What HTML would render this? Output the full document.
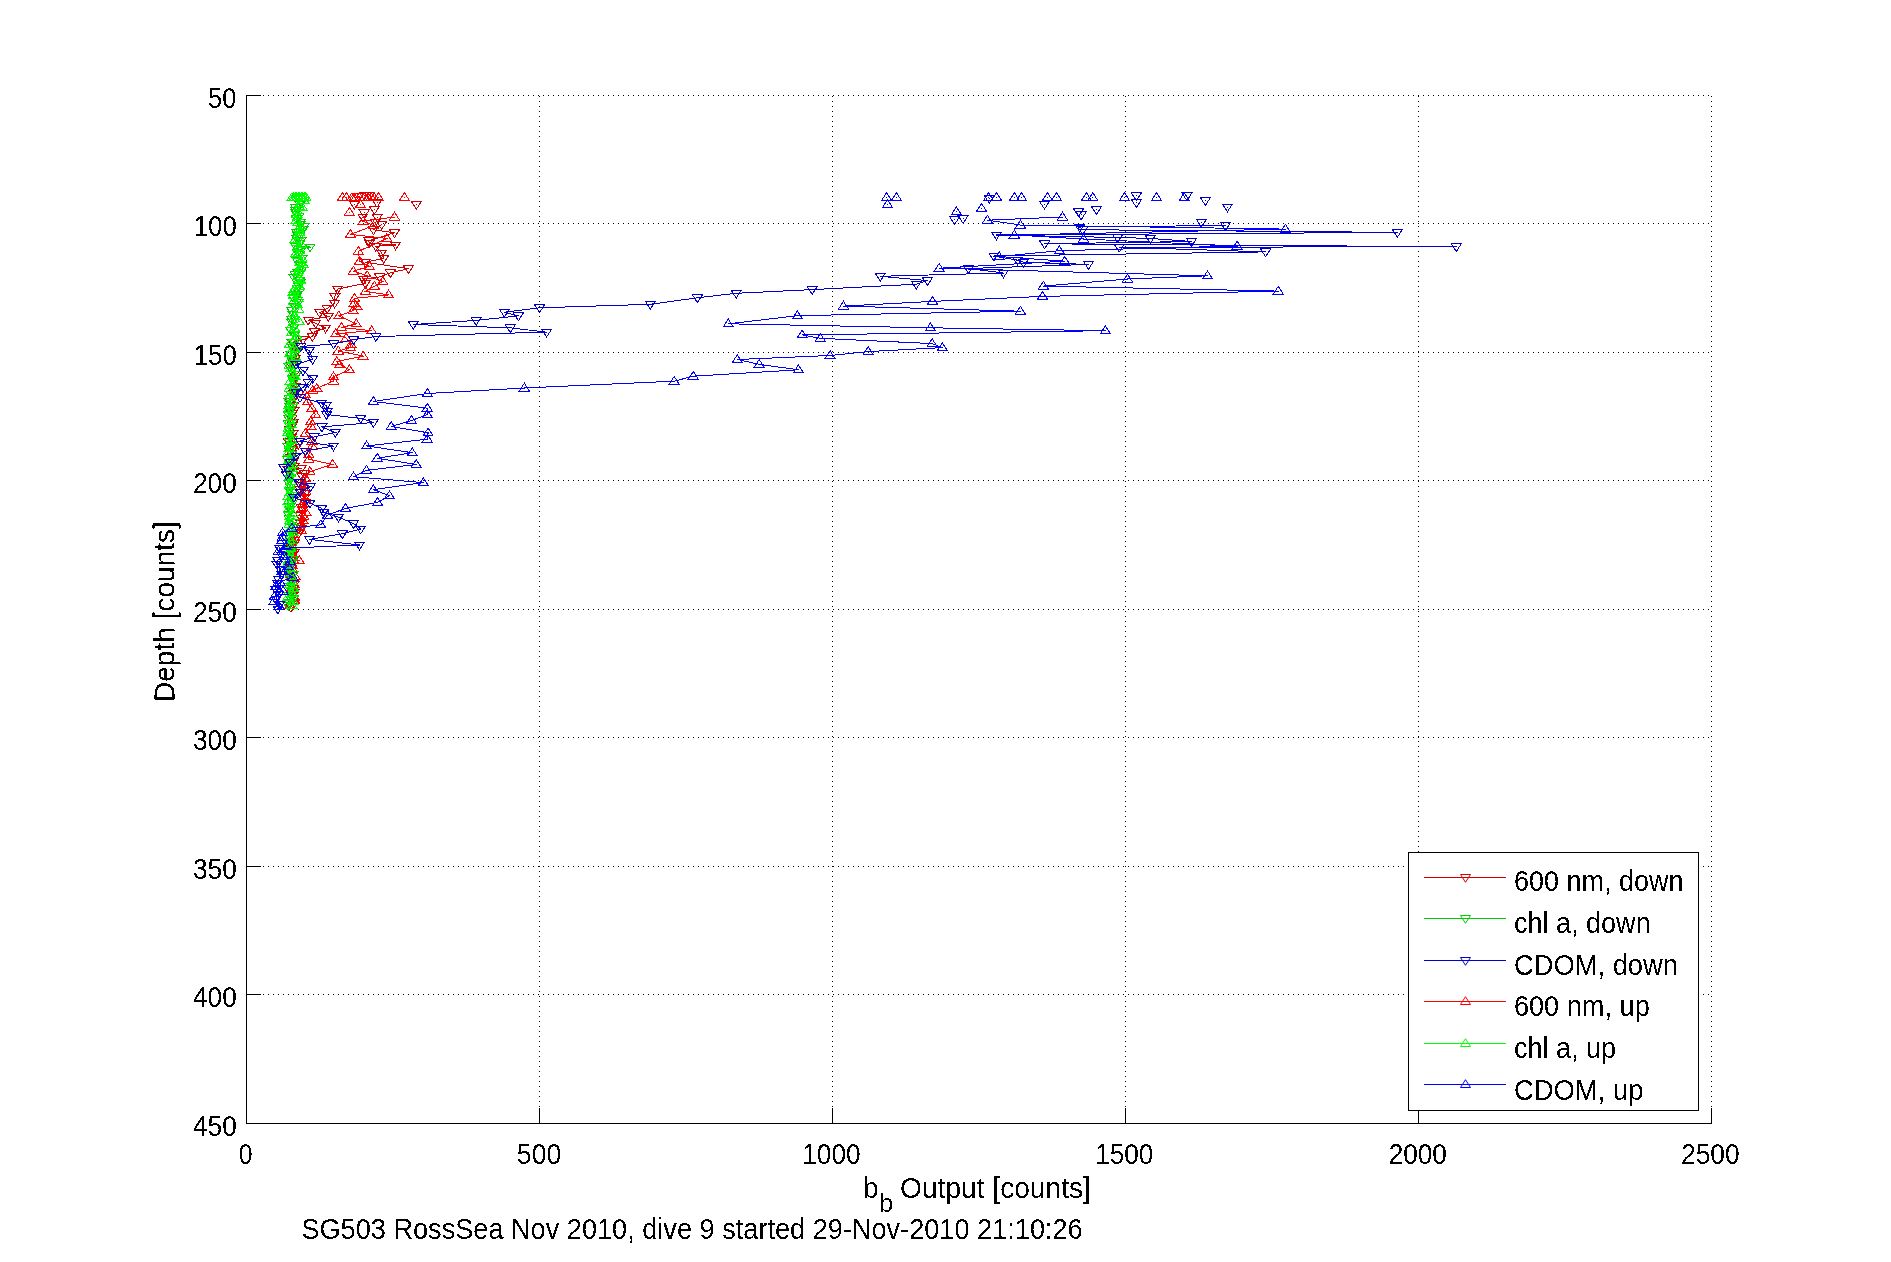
<!DOCTYPE html><html><head><meta charset="utf-8"><title>SG503 RossSea bb output</title><style>html,body{margin:0;padding:0;background:#fff;}svg{display:block;}text{font-family:"Liberation Sans", Arial, Helvetica, sans-serif;font-size:30px;fill:#000;}</style></head><body>
<svg width="1891" height="1262" viewBox="0 0 1891 1262">
<rect x="0" y="0" width="1891" height="1262" fill="#fff"/>
<defs><filter id="al" x="-5%" y="-20%" width="110%" height="140%"><feComponentTransfer><feFuncA type="discrete" tableValues="0 1"/></feComponentTransfer></filter></defs>
<path d="M246.5 1122V95M539.5 1122V95M832.5 1122V95M1125.5 1122V95M1418.5 1122V95M1711.5 1122V95M248 95.5H1712M248 223.5H1712M248 352.5H1712M248 480.5H1712M248 609.5H1712M248 737.5H1712M248 866.5H1712M248 994.5H1712M248 1123.5H1712" stroke="#000" stroke-width="1" stroke-dasharray="1 4" fill="none" shape-rendering="crispEdges"/>
<path d="M246.5 95V1123.5H1712M246.5 1123V1108M539.5 1123V1108M832.5 1123V1108M1125.5 1123V1108M1418.5 1123V1108M1711.5 1123V1108M246 95.5H261M246 223.5H261M246 352.5H261M246 480.5H261M246 609.5H261M246 737.5H261M246 866.5H261M246 994.5H261M246 1123.5H261" stroke="#000" stroke-width="1" fill="none" shape-rendering="crispEdges"/>
<text x="208.06" y="108" textLength="28.16" lengthAdjust="spacingAndGlyphs" filter="url(#al)">50</text>
<text x="193.78" y="236" textLength="43.03" lengthAdjust="spacingAndGlyphs" filter="url(#al)">100</text>
<text x="193.78" y="365" textLength="43.03" lengthAdjust="spacingAndGlyphs" filter="url(#al)">150</text>
<text x="193.02" y="493" textLength="43.80" lengthAdjust="spacingAndGlyphs" filter="url(#al)">200</text>
<text x="193.02" y="622" textLength="43.80" lengthAdjust="spacingAndGlyphs" filter="url(#al)">250</text>
<text x="193.02" y="750" textLength="43.80" lengthAdjust="spacingAndGlyphs" filter="url(#al)">300</text>
<text x="193.02" y="879" textLength="43.80" lengthAdjust="spacingAndGlyphs" filter="url(#al)">350</text>
<text x="193.02" y="1007" textLength="43.80" lengthAdjust="spacingAndGlyphs" filter="url(#al)">400</text>
<text x="193.02" y="1136" textLength="43.80" lengthAdjust="spacingAndGlyphs" filter="url(#al)">450</text>
<text x="238.77" y="1164" textLength="13.80" lengthAdjust="spacingAndGlyphs" filter="url(#al)">0</text>
<text x="516.81" y="1164" textLength="44.53" lengthAdjust="spacingAndGlyphs" filter="url(#al)">500</text>
<text x="802.25" y="1164" textLength="58.41" lengthAdjust="spacingAndGlyphs" filter="url(#al)">1000</text>
<text x="1095.15" y="1164" textLength="58.30" lengthAdjust="spacingAndGlyphs" filter="url(#al)">1500</text>
<text x="1388.63" y="1164" textLength="58.33" lengthAdjust="spacingAndGlyphs" filter="url(#al)">2000</text>
<text x="1681.02" y="1164" textLength="58.64" lengthAdjust="spacingAndGlyphs" filter="url(#al)">2500</text>
<text x="863.17" y="1198" textLength="15.26" lengthAdjust="spacingAndGlyphs" filter="url(#al)">b</text>
<text x="879.04" y="1212" textLength="14.19" lengthAdjust="spacingAndGlyphs" filter="url(#al)" style="font-size:26px">b</text>
<text x="900.06" y="1198" textLength="190.81" lengthAdjust="spacingAndGlyphs" filter="url(#al)">Output [counts]</text>
<text transform="translate(174.5 702.07) rotate(-90)" x="0" y="0" textLength="180.85" lengthAdjust="spacingAndGlyphs" filter="url(#al)">Depth [counts]</text>
<text x="301.40" y="1239" textLength="781.31" lengthAdjust="spacingAndGlyphs" filter="url(#al)">SG503 RossSea Nov 2010, dive 9 started 29-Nov-2010 21:10:26</text>
<path d="M381.7 224.6L373.5 229.8L394.5 232.7L368.9 240.8L369.2 243.1L395.6 245.0L375.8 246.3L381.7 253.0L383.7 258.3L365.4 262.3L408.4 268.7L390.4 272.8L379.6 276.9L363.6 279.2L365.4 283.3L337.5 289.1L334.8 296.7L334.6 303.2L327.2 308.5L319.8 312.7L328.3 316.4L308.2 320.1L315.6 323.3L325.6 328.0L314.5 331.7L312.4 336.5L302.9 339.7L292.8 342.0L294.8 346.5L296.4 350.5L295.0 354.6L295.4 358.3L292.5 361.2L291.8 365.8L291.5 370.5L294.0 374.2L294.3 378.3L293.3 381.2L295.0 386.4L293.1 390.1L293.9 393.3L294.2 397.6L290.1 401.6L293.8 405.5L293.8 410.8L292.1 413.8L291.9 418.3L293.5 422.2L292.6 425.3L289.5 429.6L292.9 433.7L291.7 437.2L288.5 441.6L298.3 444.4L292.0 446.3L292.1 449.7L291.2 453.9L290.9 457.4L293.5 461.5L294.1 466.7L301.1 468.8L288.3 469.9L304.4 473.7L302.2 476.8L300.8 482.1L300.8 485.7L300.4 489.8L305.2 493.4L304.4 498.2L304.8 502.7L300.9 507.2L302.4 510.0L299.5 515.0L302.2 518.9L300.3 523.2L301.4 528.1L299.5 532.2L294.0 535.4L294.4 540.3L294.3 543.7L291.6 547.8L294.7 552.1L291.5 555.9L291.1 559.3L290.2 564.5L291.1 568.7L290.9 571.6L292.2 575.5L291.5 580.7L294.0 584.5L292.7 588.7L294.3 592.1L293.2 595.3L293.2 599.9L293.3 604.2L290.9 607.3" stroke="#cc0000" stroke-width="1" fill="none" shape-rendering="crispEdges"/>
<path d="M359.2 192.3H369.2L364.2 200.1ZM365.0 192.3H375.0L370.0 200.1ZM354.0 193.0H364.0L359.0 200.8ZM372.0 199.5H382.0L377.0 207.3ZM349.3 201.2H359.3L354.3 209.0ZM411.4 201.5H421.4L416.4 209.3ZM369.4 206.4H379.4L374.4 214.2ZM359.2 209.9H369.2L364.2 217.7ZM357.8 214.0H367.8L362.8 221.8ZM372.3 214.3H382.3L377.3 222.1ZM370.3 219.2H380.3L375.3 227.0ZM376.7 221.6H386.7L381.7 229.4ZM368.5 226.8H378.5L373.5 234.6ZM389.5 229.7H399.5L394.5 237.5ZM363.9 237.8H373.9L368.9 245.6ZM364.2 240.1H374.2L369.2 247.9ZM390.6 242.0H400.6L395.6 249.8ZM370.8 243.3H380.8L375.8 251.1ZM376.7 250.0H386.7L381.7 257.8ZM378.7 255.3H388.7L383.7 263.1ZM360.4 259.3H370.4L365.4 267.1ZM403.4 265.7H413.4L408.4 273.5ZM385.4 269.8H395.4L390.4 277.6ZM374.6 273.9H384.6L379.6 281.7ZM358.6 276.2H368.6L363.6 284.0ZM360.4 280.3H370.4L365.4 288.1ZM332.5 286.1H342.5L337.5 293.9ZM329.8 293.7H339.8L334.8 301.5ZM329.6 300.2H339.6L334.6 308.0ZM322.2 305.5H332.2L327.2 313.3ZM314.8 309.7H324.8L319.8 317.5ZM323.3 313.4H333.3L328.3 321.2ZM303.2 317.1H313.2L308.2 324.9ZM310.6 320.3H320.6L315.6 328.1ZM320.6 325.0H330.6L325.6 332.8ZM309.5 328.7H319.5L314.5 336.5ZM307.4 333.5H317.4L312.4 341.3ZM297.9 336.7H307.9L302.9 344.5ZM287.8 339.0H297.8L292.8 346.8ZM289.8 343.5H299.8L294.8 351.3ZM291.4 347.5H301.4L296.4 355.3ZM290.0 351.6H300.0L295.0 359.4ZM290.4 355.3H300.4L295.4 363.1ZM287.5 358.2H297.5L292.5 366.0ZM286.8 362.8H296.8L291.8 370.6ZM286.5 367.5H296.5L291.5 375.3ZM289.0 371.2H299.0L294.0 379.0ZM289.3 375.3H299.3L294.3 383.1ZM288.3 378.2H298.3L293.3 386.0ZM290.0 383.4H300.0L295.0 391.2ZM288.1 387.1H298.1L293.1 394.9ZM288.9 390.3H298.9L293.9 398.1ZM289.2 394.6H299.2L294.2 402.4ZM285.1 398.6H295.1L290.1 406.4ZM288.8 402.5H298.8L293.8 410.3ZM288.8 407.8H298.8L293.8 415.6ZM287.1 410.8H297.1L292.1 418.6ZM286.9 415.3H296.9L291.9 423.1ZM288.5 419.2H298.5L293.5 427.0ZM287.6 422.3H297.6L292.6 430.1ZM284.5 426.6H294.5L289.5 434.4ZM287.9 430.7H297.9L292.9 438.5ZM286.7 434.2H296.7L291.7 442.0ZM283.5 438.6H293.5L288.5 446.4ZM293.3 441.4H303.3L298.3 449.2ZM287.0 443.3H297.0L292.0 451.1ZM287.1 446.7H297.1L292.1 454.5ZM286.2 450.9H296.2L291.2 458.7ZM285.9 454.4H295.9L290.9 462.2ZM288.5 458.5H298.5L293.5 466.3ZM289.1 463.7H299.1L294.1 471.5ZM296.1 465.8H306.1L301.1 473.6ZM283.3 466.9H293.3L288.3 474.7ZM299.4 470.7H309.4L304.4 478.5ZM297.2 473.8H307.2L302.2 481.6ZM295.8 479.1H305.8L300.8 486.9ZM295.8 482.7H305.8L300.8 490.5ZM295.4 486.8H305.4L300.4 494.6ZM300.2 490.4H310.2L305.2 498.2ZM299.4 495.2H309.4L304.4 503.0ZM299.8 499.7H309.8L304.8 507.5ZM295.9 504.2H305.9L300.9 512.0ZM297.4 507.0H307.4L302.4 514.8ZM294.5 512.0H304.5L299.5 519.8ZM297.2 515.9H307.2L302.2 523.7ZM295.3 520.2H305.3L300.3 528.0ZM296.4 525.1H306.4L301.4 532.9ZM294.5 529.2H304.5L299.5 537.0ZM289.0 532.4H299.0L294.0 540.2ZM289.4 537.3H299.4L294.4 545.1ZM289.3 540.7H299.3L294.3 548.5ZM286.6 544.8H296.6L291.6 552.6ZM289.7 549.1H299.7L294.7 556.9ZM286.5 552.9H296.5L291.5 560.7ZM286.1 556.3H296.1L291.1 564.1ZM285.2 561.5H295.2L290.2 569.3ZM286.1 565.7H296.1L291.1 573.5ZM285.9 568.6H295.9L290.9 576.4ZM287.2 572.5H297.2L292.2 580.3ZM286.5 577.7H296.5L291.5 585.5ZM289.0 581.5H299.0L294.0 589.3ZM287.7 585.7H297.7L292.7 593.5ZM289.3 589.1H299.3L294.3 596.9ZM288.2 592.3H298.2L293.2 600.1ZM288.2 596.9H298.2L293.2 604.7ZM288.3 601.2H298.3L293.3 609.0ZM285.9 604.3H295.9L290.9 612.1Z" stroke="#cc0000" stroke-width="1" fill="none" shape-rendering="crispEdges"/>
<path d="M364 195h1v1h-1zM370 195h1v1h-1zM359 196h1v1h-1zM377 202h1v1h-1zM354 204h1v1h-1zM416 204h1v1h-1zM374 209h1v1h-1zM364 212h1v1h-1zM362 217h1v1h-1zM377 217h1v1h-1zM375 222h1v1h-1zM381 224h1v1h-1zM373 229h1v1h-1zM394 232h1v1h-1zM368 240h1v1h-1zM369 243h1v1h-1zM395 245h1v1h-1zM375 246h1v1h-1zM381 253h1v1h-1zM383 258h1v1h-1zM365 262h1v1h-1zM408 268h1v1h-1zM390 272h1v1h-1zM379 276h1v1h-1zM363 279h1v1h-1zM365 283h1v1h-1zM337 289h1v1h-1zM334 296h1v1h-1zM334 303h1v1h-1zM327 308h1v1h-1zM319 312h1v1h-1zM328 316h1v1h-1zM308 320h1v1h-1zM315 323h1v1h-1zM325 328h1v1h-1zM314 331h1v1h-1zM312 336h1v1h-1zM302 339h1v1h-1zM292 342h1v1h-1zM294 346h1v1h-1zM296 350h1v1h-1zM295 354h1v1h-1zM295 358h1v1h-1zM292 361h1v1h-1zM291 365h1v1h-1zM291 370h1v1h-1zM294 374h1v1h-1zM294 378h1v1h-1zM293 381h1v1h-1zM295 386h1v1h-1zM293 390h1v1h-1zM293 393h1v1h-1zM294 397h1v1h-1zM290 401h1v1h-1zM293 405h1v1h-1zM293 410h1v1h-1zM292 413h1v1h-1zM291 418h1v1h-1zM293 422h1v1h-1zM292 425h1v1h-1zM289 429h1v1h-1zM292 433h1v1h-1zM291 437h1v1h-1zM288 441h1v1h-1zM298 444h1v1h-1zM292 446h1v1h-1zM292 449h1v1h-1zM291 453h1v1h-1zM290 457h1v1h-1zM293 461h1v1h-1zM294 466h1v1h-1zM301 468h1v1h-1zM288 469h1v1h-1zM304 473h1v1h-1zM302 476h1v1h-1zM300 482h1v1h-1zM300 485h1v1h-1zM300 489h1v1h-1zM305 493h1v1h-1zM304 498h1v1h-1zM304 502h1v1h-1zM300 507h1v1h-1zM302 510h1v1h-1zM299 515h1v1h-1zM302 518h1v1h-1zM300 523h1v1h-1zM301 528h1v1h-1zM299 532h1v1h-1zM294 535h1v1h-1zM294 540h1v1h-1zM294 543h1v1h-1zM291 547h1v1h-1zM294 552h1v1h-1zM291 555h1v1h-1zM291 559h1v1h-1zM290 564h1v1h-1zM291 568h1v1h-1zM290 571h1v1h-1zM292 575h1v1h-1zM291 580h1v1h-1zM294 584h1v1h-1zM292 588h1v1h-1zM294 592h1v1h-1zM293 595h1v1h-1zM293 599h1v1h-1zM293 604h1v1h-1zM290 607h1v1h-1z" fill="#cc0000"/>
<path d="M394.5 217.0L363.3 221.1L373.5 225.7L350.5 234.4L386.9 238.5L358.4 251.3L359.6 261.2L369.4 266.4L353.4 271.1L367.1 275.7L382.8 281.5L374.4 286.2L365.4 291.4L388.6 294.9L354.6 298.4L354.2 303.2L357.3 306.9L353.1 310.6L338.8 315.9L356.3 323.8L341.5 327.5L371.6 330.7L335.7 333.8L346.2 338.1L351.0 344.4L350.5 347.6L338.3 351.0L363.2 356.1L336.8 361.6L339.7 364.5L349.4 369.8L333.5 376.8L333.5 381.1L316.8 388.3L312.7 390.4L305.0 394.1L307.5 401.9L311.9 408.2L315.5 414.6L310.7 421.7L311.1 426.5L305.5 433.3L312.2 441.1L312.2 446.1L308.8 454.4L308.8 459.4L332.6 464.3L309.9 471.6L305.5 478.3L304.4 484.9L305.5 491.0L302.2 496.6L305.6 499.4L302.8 503.9L301.8 508.8L305.9 512.2L303.9 516.5L303.3 520.8L301.0 524.7L301.2 530.0L292.8 532.6L294.8 537.8L292.5 540.4L291.2 544.3L291.9 548.3L291.4 552.6L293.0 557.6L299.2 560.5L293.9 560.9L292.2 565.0L292.0 568.7L290.4 572.6L295.0 576.4L292.6 581.2L294.4 584.5L291.4 588.6L292.1 592.9L294.8 597.6L294.4 600.2L290.2 605.3" stroke="#ff0000" stroke-width="1" fill="none" shape-rendering="crispEdges"/>
<path d="M337.4 200.5H347.4L342.4 192.7ZM341.5 200.5H351.5L346.5 192.7ZM347.0 200.5H357.0L352.0 192.7ZM349.0 200.5H359.0L354.0 192.7ZM351.0 200.5H361.0L356.0 192.7ZM354.6 200.5H364.6L359.6 192.7ZM359.2 200.5H369.2L364.2 192.7ZM362.7 200.5H372.7L367.7 192.7ZM366.2 200.5H376.2L371.2 192.7ZM369.1 200.5H379.1L374.1 192.7ZM373.5 200.5H383.5L378.5 192.7ZM399.4 200.5H409.4L404.4 192.7ZM355.7 207.8H365.7L360.7 200.0ZM344.4 215.3H354.4L349.4 207.5ZM389.5 220.0H399.5L394.5 212.2ZM358.3 224.1H368.3L363.3 216.3ZM368.5 228.7H378.5L373.5 220.9ZM345.5 237.4H355.5L350.5 229.6ZM381.9 241.5H391.9L386.9 233.7ZM353.4 254.3H363.4L358.4 246.5ZM354.6 264.2H364.6L359.6 256.4ZM364.4 269.4H374.4L369.4 261.6ZM348.4 274.1H358.4L353.4 266.3ZM362.1 278.7H372.1L367.1 270.9ZM377.8 284.5H387.8L382.8 276.7ZM369.4 289.2H379.4L374.4 281.4ZM360.4 294.4H370.4L365.4 286.6ZM383.6 297.9H393.6L388.6 290.1ZM349.6 301.4H359.6L354.6 293.6ZM349.2 306.2H359.2L354.2 298.4ZM352.3 309.9H362.3L357.3 302.1ZM348.1 313.6H358.1L353.1 305.8ZM333.8 318.9H343.8L338.8 311.1ZM351.3 326.8H361.3L356.3 319.0ZM336.5 330.5H346.5L341.5 322.7ZM366.6 333.7H376.6L371.6 325.9ZM330.7 336.8H340.7L335.7 329.0ZM341.2 341.1H351.2L346.2 333.3ZM346.0 347.4H356.0L351.0 339.6ZM345.5 350.6H355.5L350.5 342.8ZM333.3 354.0H343.3L338.3 346.2ZM358.2 359.1H368.2L363.2 351.3ZM331.8 364.6H341.8L336.8 356.8ZM334.7 367.5H344.7L339.7 359.7ZM344.4 372.8H354.4L349.4 365.0ZM328.5 379.8H338.5L333.5 372.0ZM328.5 384.1H338.5L333.5 376.3ZM311.8 391.3H321.8L316.8 383.5ZM307.7 393.4H317.7L312.7 385.6ZM300.0 397.1H310.0L305.0 389.3ZM302.5 404.9H312.5L307.5 397.1ZM306.9 411.2H316.9L311.9 403.4ZM310.5 417.6H320.5L315.5 409.8ZM305.7 424.7H315.7L310.7 416.9ZM306.1 429.5H316.1L311.1 421.7ZM300.5 436.3H310.5L305.5 428.5ZM307.2 444.1H317.2L312.2 436.3ZM307.2 449.1H317.2L312.2 441.3ZM303.8 457.4H313.8L308.8 449.6ZM303.8 462.4H313.8L308.8 454.6ZM327.6 467.3H337.6L332.6 459.5ZM304.9 474.6H314.9L309.9 466.8ZM300.5 481.3H310.5L305.5 473.5ZM299.4 487.9H309.4L304.4 480.1ZM300.5 494.0H310.5L305.5 486.2ZM297.2 499.6H307.2L302.2 491.8ZM300.6 502.4H310.6L305.6 494.6ZM297.8 506.9H307.8L302.8 499.1ZM296.8 511.8H306.8L301.8 504.0ZM300.9 515.2H310.9L305.9 507.4ZM298.9 519.5H308.9L303.9 511.7ZM298.3 523.8H308.3L303.3 516.0ZM296.0 527.7H306.0L301.0 519.9ZM296.2 533.0H306.2L301.2 525.2ZM287.8 535.6H297.8L292.8 527.8ZM289.8 540.8H299.8L294.8 533.0ZM287.5 543.4H297.5L292.5 535.6ZM286.2 547.3H296.2L291.2 539.5ZM286.9 551.3H296.9L291.9 543.5ZM286.4 555.6H296.4L291.4 547.8ZM288.0 560.6H298.0L293.0 552.8ZM294.2 563.5H304.2L299.2 555.7ZM288.9 563.9H298.9L293.9 556.1ZM287.2 568.0H297.2L292.2 560.2ZM287.0 571.7H297.0L292.0 563.9ZM285.4 575.6H295.4L290.4 567.8ZM290.0 579.4H300.0L295.0 571.6ZM287.6 584.2H297.6L292.6 576.4ZM289.4 587.5H299.4L294.4 579.7ZM286.4 591.6H296.4L291.4 583.8ZM287.1 595.9H297.1L292.1 588.1ZM289.8 600.6H299.8L294.8 592.8ZM289.4 603.2H299.4L294.4 595.4ZM285.2 608.3H295.2L290.2 600.5Z" stroke="#ff0000" stroke-width="1" fill="none" shape-rendering="crispEdges"/>
<path d="M342 197h1v1h-1zM346 197h1v1h-1zM352 197h1v1h-1zM354 197h1v1h-1zM356 197h1v1h-1zM359 197h1v1h-1zM364 197h1v1h-1zM367 197h1v1h-1zM371 197h1v1h-1zM374 197h1v1h-1zM378 197h1v1h-1zM404 197h1v1h-1zM360 204h1v1h-1zM349 212h1v1h-1zM394 217h1v1h-1zM363 221h1v1h-1zM373 225h1v1h-1zM350 234h1v1h-1zM386 238h1v1h-1zM358 251h1v1h-1zM359 261h1v1h-1zM369 266h1v1h-1zM353 271h1v1h-1zM367 275h1v1h-1zM382 281h1v1h-1zM374 286h1v1h-1zM365 291h1v1h-1zM388 294h1v1h-1zM354 298h1v1h-1zM354 303h1v1h-1zM357 306h1v1h-1zM353 310h1v1h-1zM338 315h1v1h-1zM356 323h1v1h-1zM341 327h1v1h-1zM371 330h1v1h-1zM335 333h1v1h-1zM346 338h1v1h-1zM351 344h1v1h-1zM350 347h1v1h-1zM338 351h1v1h-1zM363 356h1v1h-1zM336 361h1v1h-1zM339 364h1v1h-1zM349 369h1v1h-1zM333 376h1v1h-1zM333 381h1v1h-1zM316 388h1v1h-1zM312 390h1v1h-1zM305 394h1v1h-1zM307 401h1v1h-1zM311 408h1v1h-1zM315 414h1v1h-1zM310 421h1v1h-1zM311 426h1v1h-1zM305 433h1v1h-1zM312 441h1v1h-1zM312 446h1v1h-1zM308 454h1v1h-1zM308 459h1v1h-1zM332 464h1v1h-1zM309 471h1v1h-1zM305 478h1v1h-1zM304 484h1v1h-1zM305 491h1v1h-1zM302 496h1v1h-1zM305 499h1v1h-1zM302 503h1v1h-1zM301 508h1v1h-1zM305 512h1v1h-1zM303 516h1v1h-1zM303 520h1v1h-1zM301 524h1v1h-1zM301 530h1v1h-1zM292 532h1v1h-1zM294 537h1v1h-1zM292 540h1v1h-1zM291 544h1v1h-1zM291 548h1v1h-1zM291 552h1v1h-1zM293 557h1v1h-1zM299 560h1v1h-1zM293 560h1v1h-1zM292 565h1v1h-1zM292 568h1v1h-1zM290 572h1v1h-1zM295 576h1v1h-1zM292 581h1v1h-1zM294 584h1v1h-1zM291 588h1v1h-1zM292 592h1v1h-1zM294 597h1v1h-1zM294 600h1v1h-1zM290 605h1v1h-1z" fill="#ff0000"/>
<path d="M300.3 224.0L304.1 226.3L303.0 229.5L296.2 232.0L297.8 235.9L296.6 238.3L300.9 240.8L300.0 243.1L295.4 246.1L310.1 247.0L301.2 249.3L297.8 252.3L299.1 254.7L302.3 258.1L297.0 260.7L299.4 264.0L301.0 265.9L302.9 268.4L297.7 272.2L295.2 274.6L294.1 277.7L299.7 280.3L300.2 282.7L298.6 286.0L297.4 288.5L299.1 292.1L296.3 294.5L293.0 297.3L297.3 300.6L298.5 302.3L294.9 306.9L291.7 310.5L292.6 314.0L291.4 319.0L291.7 322.2L293.8 327.2L290.7 330.5L294.7 335.2L297.1 339.2L291.9 342.5L292.5 347.2L297.6 350.0L290.7 354.2L291.1 358.6L293.9 362.2L289.1 366.5L291.8 370.7L296.0 374.9L292.6 378.8L293.6 381.9L294.9 387.0L294.5 391.1L291.2 394.4L289.3 398.8L289.0 401.9L289.7 406.1L290.3 409.9L288.2 414.0L288.6 418.4L288.0 423.2L291.4 426.0L289.1 430.4L289.6 434.0L292.3 439.4L289.9 442.6L287.6 446.0L289.1 450.2L292.0 454.1L287.4 459.3L290.3 462.0L290.4 465.8L290.4 471.4L292.3 474.9L289.0 478.4L288.5 483.0L290.6 487.0L289.5 490.2L292.1 495.4L292.4 499.1L292.2 503.0L289.2 506.6L289.9 509.8L288.2 514.2L289.5 518.9L293.0 522.5L293.0 527.4L293.1 530.4L289.4 534.2L289.2 538.1L291.4 543.2L292.5 546.6L291.5 551.1L288.5 554.9L292.9 559.1L292.1 562.6L288.8 567.1L289.7 571.1L293.4 574.4L290.0 579.3L291.9 582.1L288.4 586.0L293.0 591.1L288.4 595.1L293.5 598.9L289.6 602.7L288.2 605.8" stroke="#00cc00" stroke-width="1" fill="none" shape-rendering="crispEdges"/>
<path d="M293.0 195.4H303.0L298.0 203.2ZM296.0 198.0H306.0L301.0 205.8ZM296.1 198.1H306.1L301.1 205.9ZM295.0 201.4H305.0L300.0 209.2ZM290.5 204.4H300.5L295.5 212.2ZM290.3 207.1H300.3L295.3 214.9ZM290.6 209.3H300.6L295.6 217.1ZM293.9 213.3H303.9L298.9 221.1ZM291.1 215.2H301.1L296.1 223.0ZM295.8 219.1H305.8L300.8 226.9ZM295.3 221.0H305.3L300.3 228.8ZM299.1 223.3H309.1L304.1 231.1ZM298.0 226.5H308.0L303.0 234.3ZM291.2 229.0H301.2L296.2 236.8ZM292.8 232.9H302.8L297.8 240.7ZM291.6 235.3H301.6L296.6 243.1ZM295.9 237.8H305.9L300.9 245.6ZM295.0 240.1H305.0L300.0 247.9ZM290.4 243.1H300.4L295.4 250.9ZM305.1 244.0H315.1L310.1 251.8ZM296.2 246.3H306.2L301.2 254.1ZM292.8 249.3H302.8L297.8 257.1ZM294.1 251.7H304.1L299.1 259.5ZM297.3 255.1H307.3L302.3 262.9ZM292.0 257.7H302.0L297.0 265.5ZM294.4 261.0H304.4L299.4 268.8ZM296.0 262.9H306.0L301.0 270.7ZM297.9 265.4H307.9L302.9 273.2ZM292.7 269.2H302.7L297.7 277.0ZM290.2 271.6H300.2L295.2 279.4ZM289.1 274.7H299.1L294.1 282.5ZM294.7 277.3H304.7L299.7 285.1ZM295.2 279.7H305.2L300.2 287.5ZM293.6 283.0H303.6L298.6 290.8ZM292.4 285.5H302.4L297.4 293.3ZM294.1 289.1H304.1L299.1 296.9ZM291.3 291.5H301.3L296.3 299.3ZM288.0 294.3H298.0L293.0 302.1ZM292.3 297.6H302.3L297.3 305.4ZM293.5 299.3H303.5L298.5 307.1ZM289.9 303.9H299.9L294.9 311.7ZM286.7 307.5H296.7L291.7 315.3ZM287.6 311.0H297.6L292.6 318.8ZM286.4 316.0H296.4L291.4 323.8ZM286.7 319.2H296.7L291.7 327.0ZM288.8 324.2H298.8L293.8 332.0ZM285.7 327.5H295.7L290.7 335.3ZM289.7 332.2H299.7L294.7 340.0ZM292.1 336.2H302.1L297.1 344.0ZM286.9 339.5H296.9L291.9 347.3ZM287.5 344.2H297.5L292.5 352.0ZM292.6 347.0H302.6L297.6 354.8ZM285.7 351.2H295.7L290.7 359.0ZM286.1 355.6H296.1L291.1 363.4ZM288.9 359.2H298.9L293.9 367.0ZM284.1 363.5H294.1L289.1 371.3ZM286.8 367.7H296.8L291.8 375.5ZM291.0 371.9H301.0L296.0 379.7ZM287.6 375.8H297.6L292.6 383.6ZM288.6 378.9H298.6L293.6 386.7ZM289.9 384.0H299.9L294.9 391.8ZM289.5 388.1H299.5L294.5 395.9ZM286.2 391.4H296.2L291.2 399.2ZM284.3 395.8H294.3L289.3 403.6ZM284.0 398.9H294.0L289.0 406.7ZM284.7 403.1H294.7L289.7 410.9ZM285.3 406.9H295.3L290.3 414.7ZM283.2 411.0H293.2L288.2 418.8ZM283.6 415.4H293.6L288.6 423.2ZM283.0 420.2H293.0L288.0 428.0ZM286.4 423.0H296.4L291.4 430.8ZM284.1 427.4H294.1L289.1 435.2ZM284.6 431.0H294.6L289.6 438.8ZM287.3 436.4H297.3L292.3 444.2ZM284.9 439.6H294.9L289.9 447.4ZM282.6 443.0H292.6L287.6 450.8ZM284.1 447.2H294.1L289.1 455.0ZM287.0 451.1H297.0L292.0 458.9ZM282.4 456.3H292.4L287.4 464.1ZM285.3 459.0H295.3L290.3 466.8ZM285.4 462.8H295.4L290.4 470.6ZM285.4 468.4H295.4L290.4 476.2ZM287.3 471.9H297.3L292.3 479.7ZM284.0 475.4H294.0L289.0 483.2ZM283.5 480.0H293.5L288.5 487.8ZM285.6 484.0H295.6L290.6 491.8ZM284.5 487.2H294.5L289.5 495.0ZM287.1 492.4H297.1L292.1 500.2ZM287.4 496.1H297.4L292.4 503.9ZM287.2 500.0H297.2L292.2 507.8ZM284.2 503.6H294.2L289.2 511.4ZM284.9 506.8H294.9L289.9 514.6ZM283.2 511.2H293.2L288.2 519.0ZM284.5 515.9H294.5L289.5 523.7ZM288.0 519.5H298.0L293.0 527.3ZM288.0 524.4H298.0L293.0 532.2ZM288.1 527.4H298.1L293.1 535.2ZM284.4 531.2H294.4L289.4 539.0ZM284.2 535.1H294.2L289.2 542.9ZM286.4 540.2H296.4L291.4 548.0ZM287.5 543.6H297.5L292.5 551.4ZM286.5 548.1H296.5L291.5 555.9ZM283.5 551.9H293.5L288.5 559.7ZM287.9 556.1H297.9L292.9 563.9ZM287.1 559.6H297.1L292.1 567.4ZM283.8 564.1H293.8L288.8 571.9ZM284.7 568.1H294.7L289.7 575.9ZM288.4 571.4H298.4L293.4 579.2ZM285.0 576.3H295.0L290.0 584.1ZM286.9 579.1H296.9L291.9 586.9ZM283.4 583.0H293.4L288.4 590.8ZM288.0 588.1H298.0L293.0 595.9ZM283.4 592.1H293.4L288.4 599.9ZM288.5 595.9H298.5L293.5 603.7ZM284.6 599.7H294.6L289.6 607.5ZM283.2 602.8H293.2L288.2 610.6Z" stroke="#00cc00" stroke-width="1" fill="none" shape-rendering="crispEdges"/>
<path d="M298 198h1v1h-1zM301 201h1v1h-1zM301 201h1v1h-1zM300 204h1v1h-1zM295 207h1v1h-1zM295 210h1v1h-1zM295 212h1v1h-1zM298 216h1v1h-1zM296 218h1v1h-1zM300 222h1v1h-1zM300 224h1v1h-1zM304 226h1v1h-1zM303 229h1v1h-1zM296 232h1v1h-1zM297 235h1v1h-1zM296 238h1v1h-1zM300 240h1v1h-1zM300 243h1v1h-1zM295 246h1v1h-1zM310 247h1v1h-1zM301 249h1v1h-1zM297 252h1v1h-1zM299 254h1v1h-1zM302 258h1v1h-1zM297 260h1v1h-1zM299 264h1v1h-1zM301 265h1v1h-1zM302 268h1v1h-1zM297 272h1v1h-1zM295 274h1v1h-1zM294 277h1v1h-1zM299 280h1v1h-1zM300 282h1v1h-1zM298 286h1v1h-1zM297 288h1v1h-1zM299 292h1v1h-1zM296 294h1v1h-1zM293 297h1v1h-1zM297 300h1v1h-1zM298 302h1v1h-1zM294 306h1v1h-1zM291 310h1v1h-1zM292 314h1v1h-1zM291 319h1v1h-1zM291 322h1v1h-1zM293 327h1v1h-1zM290 330h1v1h-1zM294 335h1v1h-1zM297 339h1v1h-1zM291 342h1v1h-1zM292 347h1v1h-1zM297 350h1v1h-1zM290 354h1v1h-1zM291 358h1v1h-1zM293 362h1v1h-1zM289 366h1v1h-1zM291 370h1v1h-1zM296 374h1v1h-1zM292 378h1v1h-1zM293 381h1v1h-1zM294 387h1v1h-1zM294 391h1v1h-1zM291 394h1v1h-1zM289 398h1v1h-1zM289 401h1v1h-1zM289 406h1v1h-1zM290 409h1v1h-1zM288 414h1v1h-1zM288 418h1v1h-1zM288 423h1v1h-1zM291 426h1v1h-1zM289 430h1v1h-1zM289 434h1v1h-1zM292 439h1v1h-1zM289 442h1v1h-1zM287 446h1v1h-1zM289 450h1v1h-1zM292 454h1v1h-1zM287 459h1v1h-1zM290 462h1v1h-1zM290 465h1v1h-1zM290 471h1v1h-1zM292 474h1v1h-1zM289 478h1v1h-1zM288 483h1v1h-1zM290 487h1v1h-1zM289 490h1v1h-1zM292 495h1v1h-1zM292 499h1v1h-1zM292 503h1v1h-1zM289 506h1v1h-1zM289 509h1v1h-1zM288 514h1v1h-1zM289 518h1v1h-1zM293 522h1v1h-1zM293 527h1v1h-1zM293 530h1v1h-1zM289 534h1v1h-1zM289 538h1v1h-1zM291 543h1v1h-1zM292 546h1v1h-1zM291 551h1v1h-1zM288 554h1v1h-1zM292 559h1v1h-1zM292 562h1v1h-1zM288 567h1v1h-1zM289 571h1v1h-1zM293 574h1v1h-1zM290 579h1v1h-1zM291 582h1v1h-1zM288 586h1v1h-1zM293 591h1v1h-1zM288 595h1v1h-1zM293 598h1v1h-1zM289 602h1v1h-1zM288 605h1v1h-1z" fill="#00cc00"/>
<path d="M297.4 216.7L296.2 220.3L298.2 222.3L300.4 225.8L298.9 228.7L299.6 230.9L299.8 232.8L299.0 235.9L294.9 239.7L296.5 242.0L301.7 244.9L297.9 247.6L300.1 250.9L295.8 253.3L297.1 255.6L302.1 258.8L299.9 262.0L302.8 264.3L299.8 267.2L298.7 270.3L297.9 272.9L297.9 276.3L299.4 279.0L301.0 280.8L297.7 284.7L299.5 286.2L294.0 289.5L293.4 292.0L293.2 295.5L298.4 298.6L293.5 301.1L297.2 304.2L298.8 309.5L293.2 313.5L294.4 316.8L299.2 321.3L291.9 324.7L294.7 328.5L291.6 332.5L296.2 336.0L294.5 340.7L289.4 344.5L294.8 348.8L289.7 353.6L295.8 357.6L290.0 360.4L289.4 365.2L291.1 368.2L292.2 373.5L294.9 376.4L290.0 381.5L292.8 385.1L289.4 388.1L293.2 392.7L289.2 397.5L292.5 401.3L289.0 405.4L288.8 409.4L290.9 412.5L291.4 417.5L289.5 420.2L290.9 424.4L288.3 428.3L287.8 432.3L289.2 436.5L291.7 440.5L290.0 444.3L289.2 448.0L288.6 452.0L291.4 456.9L288.4 460.8L292.6 464.2L292.0 468.7L290.2 473.3L289.7 476.8L291.4 481.6L289.5 485.3L291.5 489.0L289.9 492.6L288.1 496.2L288.3 501.2L289.3 504.3L288.4 509.3L292.6 513.1L289.6 516.4L289.7 520.7L289.0 524.7L289.6 529.5L293.2 532.9L289.5 537.5L289.8 540.6L288.1 544.6L290.6 548.8L289.1 552.8L288.0 556.4L288.4 560.6L288.1 564.0L289.5 568.4L291.1 572.8L292.1 577.1L291.9 581.4L289.9 584.5L293.5 588.2L291.9 593.0L287.7 597.3L293.0 601.0L292.0 605.3" stroke="#00ff00" stroke-width="1" fill="none" shape-rendering="crispEdges"/>
<path d="M287.0 200.5H297.0L292.0 192.7ZM288.6 200.5H298.6L293.6 192.7ZM290.1 200.5H300.1L295.1 192.7ZM291.6 200.5H301.6L296.6 192.7ZM293.2 200.5H303.2L298.2 192.7ZM294.8 200.5H304.8L299.8 192.7ZM296.3 200.5H306.3L301.3 192.7ZM297.9 200.5H307.9L302.9 192.7ZM299.4 200.5H309.4L304.4 192.7ZM300.9 200.5H310.9L305.9 192.7ZM299.1 203.2H309.1L304.1 195.4ZM294.9 206.5H304.9L299.9 198.7ZM294.1 209.2H304.1L299.1 201.4ZM297.7 210.9H307.7L302.7 203.1ZM292.3 213.9H302.3L297.3 206.1ZM292.2 217.1H302.2L297.2 209.3ZM292.4 219.7H302.4L297.4 211.9ZM291.2 223.3H301.2L296.2 215.5ZM293.2 225.3H303.2L298.2 217.5ZM295.4 228.8H305.4L300.4 221.0ZM293.9 231.7H303.9L298.9 223.9ZM294.6 233.9H304.6L299.6 226.1ZM294.8 235.8H304.8L299.8 228.0ZM294.0 238.9H304.0L299.0 231.1ZM289.9 242.7H299.9L294.9 234.9ZM291.5 245.0H301.5L296.5 237.2ZM296.7 247.9H306.7L301.7 240.1ZM292.9 250.6H302.9L297.9 242.8ZM295.1 253.9H305.1L300.1 246.1ZM290.8 256.3H300.8L295.8 248.5ZM292.1 258.6H302.1L297.1 250.8ZM297.1 261.8H307.1L302.1 254.0ZM294.9 265.0H304.9L299.9 257.2ZM297.8 267.3H307.8L302.8 259.5ZM294.8 270.2H304.8L299.8 262.4ZM293.7 273.3H303.7L298.7 265.5ZM292.9 275.9H302.9L297.9 268.1ZM292.9 279.3H302.9L297.9 271.5ZM294.4 282.0H304.4L299.4 274.2ZM296.0 283.8H306.0L301.0 276.0ZM292.7 287.7H302.7L297.7 279.9ZM294.5 289.2H304.5L299.5 281.4ZM289.0 292.5H299.0L294.0 284.7ZM288.4 295.0H298.4L293.4 287.2ZM288.2 298.5H298.2L293.2 290.7ZM293.4 301.6H303.4L298.4 293.8ZM288.5 304.1H298.5L293.5 296.3ZM292.2 307.2H302.2L297.2 299.4ZM293.8 312.5H303.8L298.8 304.7ZM288.2 316.5H298.2L293.2 308.7ZM289.4 319.8H299.4L294.4 312.0ZM294.2 324.3H304.2L299.2 316.5ZM286.9 327.7H296.9L291.9 319.9ZM289.7 331.5H299.7L294.7 323.7ZM286.6 335.5H296.6L291.6 327.7ZM291.2 339.0H301.2L296.2 331.2ZM289.5 343.7H299.5L294.5 335.9ZM284.4 347.5H294.4L289.4 339.7ZM289.8 351.8H299.8L294.8 344.0ZM284.7 356.6H294.7L289.7 348.8ZM290.8 360.6H300.8L295.8 352.8ZM285.0 363.4H295.0L290.0 355.6ZM284.4 368.2H294.4L289.4 360.4ZM286.1 371.2H296.1L291.1 363.4ZM287.2 376.5H297.2L292.2 368.7ZM289.9 379.4H299.9L294.9 371.6ZM285.0 384.5H295.0L290.0 376.7ZM287.8 388.1H297.8L292.8 380.3ZM284.4 391.1H294.4L289.4 383.3ZM288.2 395.7H298.2L293.2 387.9ZM284.2 400.5H294.2L289.2 392.7ZM287.5 404.3H297.5L292.5 396.5ZM284.0 408.4H294.0L289.0 400.6ZM283.8 412.4H293.8L288.8 404.6ZM285.9 415.5H295.9L290.9 407.7ZM286.4 420.5H296.4L291.4 412.7ZM284.5 423.2H294.5L289.5 415.4ZM285.9 427.4H295.9L290.9 419.6ZM283.3 431.3H293.3L288.3 423.5ZM282.8 435.3H292.8L287.8 427.5ZM284.2 439.5H294.2L289.2 431.7ZM286.7 443.5H296.7L291.7 435.7ZM285.0 447.3H295.0L290.0 439.5ZM284.2 451.0H294.2L289.2 443.2ZM283.6 455.0H293.6L288.6 447.2ZM286.4 459.9H296.4L291.4 452.1ZM283.4 463.8H293.4L288.4 456.0ZM287.6 467.2H297.6L292.6 459.4ZM287.0 471.7H297.0L292.0 463.9ZM285.2 476.3H295.2L290.2 468.5ZM284.7 479.8H294.7L289.7 472.0ZM286.4 484.6H296.4L291.4 476.8ZM284.5 488.3H294.5L289.5 480.5ZM286.5 492.0H296.5L291.5 484.2ZM284.9 495.6H294.9L289.9 487.8ZM283.1 499.2H293.1L288.1 491.4ZM283.3 504.2H293.3L288.3 496.4ZM284.3 507.3H294.3L289.3 499.5ZM283.4 512.3H293.4L288.4 504.5ZM287.6 516.1H297.6L292.6 508.3ZM284.6 519.4H294.6L289.6 511.6ZM284.7 523.7H294.7L289.7 515.9ZM284.0 527.7H294.0L289.0 519.9ZM284.6 532.5H294.6L289.6 524.7ZM288.2 535.9H298.2L293.2 528.1ZM284.5 540.5H294.5L289.5 532.7ZM284.8 543.6H294.8L289.8 535.8ZM283.1 547.6H293.1L288.1 539.8ZM285.6 551.8H295.6L290.6 544.0ZM284.1 555.8H294.1L289.1 548.0ZM283.0 559.4H293.0L288.0 551.6ZM283.4 563.6H293.4L288.4 555.8ZM283.1 567.0H293.1L288.1 559.2ZM284.5 571.4H294.5L289.5 563.6ZM286.1 575.8H296.1L291.1 568.0ZM287.1 580.1H297.1L292.1 572.3ZM286.9 584.4H296.9L291.9 576.6ZM284.9 587.5H294.9L289.9 579.7ZM288.5 591.2H298.5L293.5 583.4ZM286.9 596.0H296.9L291.9 588.2ZM282.7 600.3H292.7L287.7 592.5ZM288.0 604.0H298.0L293.0 596.2ZM287.0 608.3H297.0L292.0 600.5Z" stroke="#00ff00" stroke-width="1" fill="none" shape-rendering="crispEdges"/>
<path d="M292 197h1v1h-1zM293 197h1v1h-1zM295 197h1v1h-1zM296 197h1v1h-1zM298 197h1v1h-1zM299 197h1v1h-1zM301 197h1v1h-1zM302 197h1v1h-1zM304 197h1v1h-1zM305 197h1v1h-1zM304 200h1v1h-1zM299 203h1v1h-1zM299 206h1v1h-1zM302 207h1v1h-1zM297 210h1v1h-1zM297 214h1v1h-1zM297 216h1v1h-1zM296 220h1v1h-1zM298 222h1v1h-1zM300 225h1v1h-1zM298 228h1v1h-1zM299 230h1v1h-1zM299 232h1v1h-1zM299 235h1v1h-1zM294 239h1v1h-1zM296 242h1v1h-1zM301 244h1v1h-1zM297 247h1v1h-1zM300 250h1v1h-1zM295 253h1v1h-1zM297 255h1v1h-1zM302 258h1v1h-1zM299 262h1v1h-1zM302 264h1v1h-1zM299 267h1v1h-1zM298 270h1v1h-1zM297 272h1v1h-1zM297 276h1v1h-1zM299 279h1v1h-1zM301 280h1v1h-1zM297 284h1v1h-1zM299 286h1v1h-1zM294 289h1v1h-1zM293 292h1v1h-1zM293 295h1v1h-1zM298 298h1v1h-1zM293 301h1v1h-1zM297 304h1v1h-1zM298 309h1v1h-1zM293 313h1v1h-1zM294 316h1v1h-1zM299 321h1v1h-1zM291 324h1v1h-1zM294 328h1v1h-1zM291 332h1v1h-1zM296 336h1v1h-1zM294 340h1v1h-1zM289 344h1v1h-1zM294 348h1v1h-1zM289 353h1v1h-1zM295 357h1v1h-1zM290 360h1v1h-1zM289 365h1v1h-1zM291 368h1v1h-1zM292 373h1v1h-1zM294 376h1v1h-1zM290 381h1v1h-1zM292 385h1v1h-1zM289 388h1v1h-1zM293 392h1v1h-1zM289 397h1v1h-1zM292 401h1v1h-1zM289 405h1v1h-1zM288 409h1v1h-1zM290 412h1v1h-1zM291 417h1v1h-1zM289 420h1v1h-1zM290 424h1v1h-1zM288 428h1v1h-1zM287 432h1v1h-1zM289 436h1v1h-1zM291 440h1v1h-1zM290 444h1v1h-1zM289 448h1v1h-1zM288 452h1v1h-1zM291 456h1v1h-1zM288 460h1v1h-1zM292 464h1v1h-1zM292 468h1v1h-1zM290 473h1v1h-1zM289 476h1v1h-1zM291 481h1v1h-1zM289 485h1v1h-1zM291 489h1v1h-1zM289 492h1v1h-1zM288 496h1v1h-1zM288 501h1v1h-1zM289 504h1v1h-1zM288 509h1v1h-1zM292 513h1v1h-1zM289 516h1v1h-1zM289 520h1v1h-1zM289 524h1v1h-1zM289 529h1v1h-1zM293 532h1v1h-1zM289 537h1v1h-1zM289 540h1v1h-1zM288 544h1v1h-1zM290 548h1v1h-1zM289 552h1v1h-1zM288 556h1v1h-1zM288 560h1v1h-1zM288 564h1v1h-1zM289 568h1v1h-1zM291 572h1v1h-1zM292 577h1v1h-1zM291 581h1v1h-1zM289 584h1v1h-1zM293 588h1v1h-1zM291 593h1v1h-1zM287 597h1v1h-1zM293 601h1v1h-1zM292 605h1v1h-1z" fill="#00ff00"/>
<path d="M1225.5 225.5L1079.6 227.0L1082.7 229.7L1397.4 232.4L996.4 235.0L1117.6 237.5L1150.4 238.4L1191.5 241.5L1044.6 243.8L1456.3 246.8L1119.2 247.2L1265.6 251.9L993.8 256.0L1017.6 260.2L1023.5 262.3L1088.5 264.4L968.5 268.5L1003.4 273.0L880.3 276.3L927.5 280.6L916.3 284.2L812.2 289.6L736.2 293.3L697.4 297.8L650.4 304.3L539.5 307.8L504.4 312.2L518.4 315.9L476.2 320.4L413.3 324.5L510.3 327.8L546.6 332.2L375.9 336.5L353.6 339.7L333.6 343.9L300.8 346.5L309.2 350.7L312.6 359.3L296.0 364.5L303.1 370.7L312.6 378.7L308.3 382.6L303.1 387.3L296.0 392.0L300.0 397.5L321.8 403.1L326.2 405.5L327.4 411.0L326.6 414.5L360.7 418.4L373.4 422.5L321.8 426.9L335.3 432.5L314.3 436.8L300.0 441.0L333.4 446.0L305.5 451.1L296.0 456.0L290.0 462.0L283.9 467.7L286.6 474.9L298.8 482.7L310.5 486.5L300.0 492.0L294.0 497.5L309.9 503.2L321.8 508.4L323.8 512.4L338.5 517.1L353.5 523.5L360.7 529.0L342.4 533.8L309.5 539.4L359.5 545.0L279.7 548.5L281.7 555.7L277.8 560.5L277.0 564.4L280.1 569.2L281.3 574.0L278.6 579.5L277.8 583.5L275.4 589.0L279.0 594.0L276.0 599.0L280.0 604.0L277.8 609.0" stroke="#0000cc" stroke-width="1" fill="none" shape-rendering="crispEdges"/>
<path d="M1131.4 192.9H1141.4L1136.4 200.7ZM1181.9 192.9H1191.9L1186.9 200.7ZM984.3 195.5H994.3L989.3 203.3ZM1200.4 197.6H1210.4L1205.4 205.4ZM1131.4 199.7H1141.4L1136.4 207.5ZM1039.5 201.3H1049.5L1044.5 209.1ZM1222.4 204.0H1232.4L1227.4 211.8ZM1091.5 206.6H1101.5L1096.5 214.4ZM1073.5 208.7H1083.5L1078.5 216.5ZM1076.2 211.9H1086.2L1081.2 219.7ZM958.1 215.6H968.1L963.1 223.4ZM949.6 216.7H959.6L954.6 224.5ZM1196.4 219.3H1206.4L1201.4 227.1ZM1220.5 222.5H1230.5L1225.5 230.3ZM1074.6 224.0H1084.6L1079.6 231.8ZM1077.7 226.7H1087.7L1082.7 234.5ZM1392.4 229.4H1402.4L1397.4 237.2ZM991.4 232.0H1001.4L996.4 239.8ZM1112.6 234.5H1122.6L1117.6 242.3ZM1145.4 235.4H1155.4L1150.4 243.2ZM1186.5 238.5H1196.5L1191.5 246.3ZM1039.6 240.8H1049.6L1044.6 248.6ZM1451.3 243.8H1461.3L1456.3 251.6ZM1114.2 244.2H1124.2L1119.2 252.0ZM1260.6 248.9H1270.6L1265.6 256.7ZM988.8 253.0H998.8L993.8 260.8ZM1012.6 257.2H1022.6L1017.6 265.0ZM1018.5 259.3H1028.5L1023.5 267.1ZM1083.5 261.4H1093.5L1088.5 269.2ZM963.5 265.5H973.5L968.5 273.3ZM998.4 270.0H1008.4L1003.4 277.8ZM875.3 273.3H885.3L880.3 281.1ZM922.5 277.6H932.5L927.5 285.4ZM911.3 281.2H921.3L916.3 289.0ZM807.2 286.6H817.2L812.2 294.4ZM731.2 290.3H741.2L736.2 298.1ZM692.4 294.8H702.4L697.4 302.6ZM645.4 301.3H655.4L650.4 309.1ZM534.5 304.8H544.5L539.5 312.6ZM499.4 309.2H509.4L504.4 317.0ZM513.4 312.9H523.4L518.4 320.7ZM471.2 317.4H481.2L476.2 325.2ZM408.3 321.5H418.3L413.3 329.3ZM505.3 324.8H515.3L510.3 332.6ZM541.6 329.2H551.6L546.6 337.0ZM370.9 333.5H380.9L375.9 341.3ZM348.6 336.7H358.6L353.6 344.5ZM328.6 340.9H338.6L333.6 348.7ZM295.8 343.5H305.8L300.8 351.3ZM304.2 347.7H314.2L309.2 355.5ZM307.6 356.3H317.6L312.6 364.1ZM291.0 361.5H301.0L296.0 369.3ZM298.1 367.7H308.1L303.1 375.5ZM307.6 375.7H317.6L312.6 383.5ZM303.3 379.6H313.3L308.3 387.4ZM298.1 384.3H308.1L303.1 392.1ZM291.0 389.0H301.0L296.0 396.8ZM295.0 394.5H305.0L300.0 402.3ZM316.8 400.1H326.8L321.8 407.9ZM321.2 402.5H331.2L326.2 410.3ZM322.4 408.0H332.4L327.4 415.8ZM321.6 411.5H331.6L326.6 419.3ZM355.7 415.4H365.7L360.7 423.2ZM368.4 419.5H378.4L373.4 427.3ZM316.8 423.9H326.8L321.8 431.7ZM330.3 429.5H340.3L335.3 437.3ZM309.3 433.8H319.3L314.3 441.6ZM295.0 438.0H305.0L300.0 445.8ZM328.4 443.0H338.4L333.4 450.8ZM300.5 448.1H310.5L305.5 455.9ZM291.0 453.0H301.0L296.0 460.8ZM285.0 459.0H295.0L290.0 466.8ZM278.9 464.7H288.9L283.9 472.5ZM281.6 471.9H291.6L286.6 479.7ZM293.8 479.7H303.8L298.8 487.5ZM305.5 483.5H315.5L310.5 491.3ZM295.0 489.0H305.0L300.0 496.8ZM289.0 494.5H299.0L294.0 502.3ZM304.9 500.2H314.9L309.9 508.0ZM316.8 505.4H326.8L321.8 513.2ZM318.8 509.4H328.8L323.8 517.2ZM333.5 514.1H343.5L338.5 521.9ZM348.5 520.5H358.5L353.5 528.3ZM355.7 526.0H365.7L360.7 533.8ZM337.4 530.8H347.4L342.4 538.6ZM304.5 536.4H314.5L309.5 544.2ZM354.5 542.0H364.5L359.5 549.8ZM274.7 545.5H284.7L279.7 553.3ZM276.7 552.7H286.7L281.7 560.5ZM272.8 557.5H282.8L277.8 565.3ZM272.0 561.4H282.0L277.0 569.2ZM275.1 566.2H285.1L280.1 574.0ZM276.3 571.0H286.3L281.3 578.8ZM273.6 576.5H283.6L278.6 584.3ZM272.8 580.5H282.8L277.8 588.3ZM270.4 586.0H280.4L275.4 593.8ZM274.0 591.0H284.0L279.0 598.8ZM271.0 596.0H281.0L276.0 603.8ZM275.0 601.0H285.0L280.0 608.8ZM272.8 606.0H282.8L277.8 613.8Z" stroke="#0000cc" stroke-width="1" fill="none" shape-rendering="crispEdges"/>
<path d="M1136 195h1v1h-1zM1186 195h1v1h-1zM989 198h1v1h-1zM1205 200h1v1h-1zM1136 202h1v1h-1zM1044 204h1v1h-1zM1227 207h1v1h-1zM1096 209h1v1h-1zM1078 211h1v1h-1zM1081 214h1v1h-1zM963 218h1v1h-1zM954 219h1v1h-1zM1201 222h1v1h-1zM1225 225h1v1h-1zM1079 227h1v1h-1zM1082 229h1v1h-1zM1397 232h1v1h-1zM996 235h1v1h-1zM1117 237h1v1h-1zM1150 238h1v1h-1zM1191 241h1v1h-1zM1044 243h1v1h-1zM1456 246h1v1h-1zM1119 247h1v1h-1zM1265 251h1v1h-1zM993 256h1v1h-1zM1017 260h1v1h-1zM1023 262h1v1h-1zM1088 264h1v1h-1zM968 268h1v1h-1zM1003 273h1v1h-1zM880 276h1v1h-1zM927 280h1v1h-1zM916 284h1v1h-1zM812 289h1v1h-1zM736 293h1v1h-1zM697 297h1v1h-1zM650 304h1v1h-1zM539 307h1v1h-1zM504 312h1v1h-1zM518 315h1v1h-1zM476 320h1v1h-1zM413 324h1v1h-1zM510 327h1v1h-1zM546 332h1v1h-1zM375 336h1v1h-1zM353 339h1v1h-1zM333 343h1v1h-1zM300 346h1v1h-1zM309 350h1v1h-1zM312 359h1v1h-1zM296 364h1v1h-1zM303 370h1v1h-1zM312 378h1v1h-1zM308 382h1v1h-1zM303 387h1v1h-1zM296 392h1v1h-1zM300 397h1v1h-1zM321 403h1v1h-1zM326 405h1v1h-1zM327 411h1v1h-1zM326 414h1v1h-1zM360 418h1v1h-1zM373 422h1v1h-1zM321 426h1v1h-1zM335 432h1v1h-1zM314 436h1v1h-1zM300 441h1v1h-1zM333 446h1v1h-1zM305 451h1v1h-1zM296 456h1v1h-1zM290 462h1v1h-1zM283 467h1v1h-1zM286 474h1v1h-1zM298 482h1v1h-1zM310 486h1v1h-1zM300 492h1v1h-1zM294 497h1v1h-1zM309 503h1v1h-1zM321 508h1v1h-1zM323 512h1v1h-1zM338 517h1v1h-1zM353 523h1v1h-1zM360 529h1v1h-1zM342 533h1v1h-1zM309 539h1v1h-1zM359 545h1v1h-1zM279 548h1v1h-1zM281 555h1v1h-1zM277 560h1v1h-1zM277 564h1v1h-1zM280 569h1v1h-1zM281 574h1v1h-1zM278 579h1v1h-1zM277 583h1v1h-1zM275 589h1v1h-1zM279 594h1v1h-1zM276 599h1v1h-1zM280 604h1v1h-1zM277 609h1v1h-1z" fill="#0000cc"/>
<path d="M1062.5 217.0L987.4 220.2L1020.4 225.0L1285.4 229.1L1014.4 235.0L1083.5 239.0L1237.1 246.0L1059.4 250.7L999.1 256.5L1064.7 261.2L939.2 268.2L1207.5 275.8L1127.5 279.0L1043.4 286.1L1278.3 291.1L1042.5 296.4L932.5 301.4L843.5 306.1L1020.4 311.2L797.4 315.7L728.3 323.8L930.4 327.8L1105.4 330.7L802.2 334.9L820.3 338.3L932.1 343.6L942.3 347.6L868.2 351.6L830.1 355.5L737.3 359.5L759.2 364.3L798.4 369.8L693.3 376.2L674.2 381.2L524.4 388.0L427.4 393.5L373.4 401.5L427.3 408.2L427.3 414.6L411.4 420.5L391.2 426.5L428.1 432.8L427.3 439.2L366.6 445.9L412.2 452.7L377.3 458.2L416.2 464.5L366.5 470.3L353.5 476.7L423.3 482.6L373.4 489.7L389.5 495.7L377.6 502.4L345.5 508.4L327.4 515.1L320.8 524.8L292.0 528.0L282.5 532.7L282.5 537.0L281.7 540.6L286.0 546.0L278.6 551.0L284.0 556.0L290.0 561.0L288.0 566.0L282.0 571.0L292.8 577.0L280.0 582.0L276.0 586.0L283.0 591.0L274.6 596.1L273.8 601.7L279.0 606.0" stroke="#0000ff" stroke-width="1" fill="none" shape-rendering="crispEdges"/>
<path d="M881.6 200.5H891.6L886.6 192.7ZM891.4 200.5H901.4L896.4 192.7ZM983.5 200.5H993.5L988.5 192.7ZM991.6 200.5H1001.6L996.6 192.7ZM1009.4 200.5H1019.4L1014.4 192.7ZM1016.5 200.5H1026.5L1021.5 192.7ZM1042.4 200.5H1052.4L1047.4 192.7ZM1051.5 200.5H1061.5L1056.5 192.7ZM1081.4 200.5H1091.4L1086.4 192.7ZM1087.8 200.5H1097.8L1092.8 192.7ZM1119.5 200.5H1129.5L1124.5 192.7ZM1151.5 200.5H1161.5L1156.5 192.7ZM1179.3 200.5H1189.3L1184.3 192.7ZM882.5 207.5H892.5L887.5 199.7ZM976.6 211.3H986.6L981.6 203.5ZM951.4 214.7H961.4L956.4 206.9ZM1057.5 220.0H1067.5L1062.5 212.2ZM982.4 223.2H992.4L987.4 215.4ZM1015.4 228.0H1025.4L1020.4 220.2ZM1280.4 232.1H1290.4L1285.4 224.3ZM1009.4 238.0H1019.4L1014.4 230.2ZM1078.5 242.0H1088.5L1083.5 234.2ZM1232.1 249.0H1242.1L1237.1 241.2ZM1054.4 253.7H1064.4L1059.4 245.9ZM994.1 259.5H1004.1L999.1 251.7ZM1059.7 264.2H1069.7L1064.7 256.4ZM934.2 271.2H944.2L939.2 263.4ZM1202.5 278.8H1212.5L1207.5 271.0ZM1122.5 282.0H1132.5L1127.5 274.2ZM1038.4 289.1H1048.4L1043.4 281.3ZM1273.3 294.1H1283.3L1278.3 286.3ZM1037.5 299.4H1047.5L1042.5 291.6ZM927.5 304.4H937.5L932.5 296.6ZM838.5 309.1H848.5L843.5 301.3ZM1015.4 314.2H1025.4L1020.4 306.4ZM792.4 318.7H802.4L797.4 310.9ZM723.3 326.8H733.3L728.3 319.0ZM925.4 330.8H935.4L930.4 323.0ZM1100.4 333.7H1110.4L1105.4 325.9ZM797.2 337.9H807.2L802.2 330.1ZM815.3 341.3H825.3L820.3 333.5ZM927.1 346.6H937.1L932.1 338.8ZM937.3 350.6H947.3L942.3 342.8ZM863.2 354.6H873.2L868.2 346.8ZM825.1 358.5H835.1L830.1 350.7ZM732.3 362.5H742.3L737.3 354.7ZM754.2 367.3H764.2L759.2 359.5ZM793.4 372.8H803.4L798.4 365.0ZM688.3 379.2H698.3L693.3 371.4ZM669.2 384.2H679.2L674.2 376.4ZM519.4 391.0H529.4L524.4 383.2ZM422.4 396.5H432.4L427.4 388.7ZM368.4 404.5H378.4L373.4 396.7ZM422.3 411.2H432.3L427.3 403.4ZM422.3 417.6H432.3L427.3 409.8ZM406.4 423.5H416.4L411.4 415.7ZM386.2 429.5H396.2L391.2 421.7ZM423.1 435.8H433.1L428.1 428.0ZM422.3 442.2H432.3L427.3 434.4ZM361.6 448.9H371.6L366.6 441.1ZM407.2 455.7H417.2L412.2 447.9ZM372.3 461.2H382.3L377.3 453.4ZM411.2 467.5H421.2L416.2 459.7ZM361.5 473.3H371.5L366.5 465.5ZM348.5 479.7H358.5L353.5 471.9ZM418.3 485.6H428.3L423.3 477.8ZM368.4 492.7H378.4L373.4 484.9ZM384.5 498.7H394.5L389.5 490.9ZM372.6 505.4H382.6L377.6 497.6ZM340.5 511.4H350.5L345.5 503.6ZM322.4 518.1H332.4L327.4 510.3ZM315.8 527.8H325.8L320.8 520.0ZM287.0 531.0H297.0L292.0 523.2ZM277.5 535.7H287.5L282.5 527.9ZM277.5 540.0H287.5L282.5 532.2ZM276.7 543.6H286.7L281.7 535.8ZM281.0 549.0H291.0L286.0 541.2ZM273.6 554.0H283.6L278.6 546.2ZM279.0 559.0H289.0L284.0 551.2ZM285.0 564.0H295.0L290.0 556.2ZM283.0 569.0H293.0L288.0 561.2ZM277.0 574.0H287.0L282.0 566.2ZM287.8 580.0H297.8L292.8 572.2ZM275.0 585.0H285.0L280.0 577.2ZM271.0 589.0H281.0L276.0 581.2ZM278.0 594.0H288.0L283.0 586.2ZM269.6 599.1H279.6L274.6 591.3ZM268.8 604.7H278.8L273.8 596.9ZM274.0 609.0H284.0L279.0 601.2Z" stroke="#0000ff" stroke-width="1" fill="none" shape-rendering="crispEdges"/>
<path d="M886 197h1v1h-1zM896 197h1v1h-1zM988 197h1v1h-1zM996 197h1v1h-1zM1014 197h1v1h-1zM1021 197h1v1h-1zM1047 197h1v1h-1zM1056 197h1v1h-1zM1086 197h1v1h-1zM1092 197h1v1h-1zM1124 197h1v1h-1zM1156 197h1v1h-1zM1184 197h1v1h-1zM887 204h1v1h-1zM981 208h1v1h-1zM956 211h1v1h-1zM1062 217h1v1h-1zM987 220h1v1h-1zM1020 225h1v1h-1zM1285 229h1v1h-1zM1014 235h1v1h-1zM1083 239h1v1h-1zM1237 246h1v1h-1zM1059 250h1v1h-1zM999 256h1v1h-1zM1064 261h1v1h-1zM939 268h1v1h-1zM1207 275h1v1h-1zM1127 279h1v1h-1zM1043 286h1v1h-1zM1278 291h1v1h-1zM1042 296h1v1h-1zM932 301h1v1h-1zM843 306h1v1h-1zM1020 311h1v1h-1zM797 315h1v1h-1zM728 323h1v1h-1zM930 327h1v1h-1zM1105 330h1v1h-1zM802 334h1v1h-1zM820 338h1v1h-1zM932 343h1v1h-1zM942 347h1v1h-1zM868 351h1v1h-1zM830 355h1v1h-1zM737 359h1v1h-1zM759 364h1v1h-1zM798 369h1v1h-1zM693 376h1v1h-1zM674 381h1v1h-1zM524 388h1v1h-1zM427 393h1v1h-1zM373 401h1v1h-1zM427 408h1v1h-1zM427 414h1v1h-1zM411 420h1v1h-1zM391 426h1v1h-1zM428 432h1v1h-1zM427 439h1v1h-1zM366 445h1v1h-1zM412 452h1v1h-1zM377 458h1v1h-1zM416 464h1v1h-1zM366 470h1v1h-1zM353 476h1v1h-1zM423 482h1v1h-1zM373 489h1v1h-1zM389 495h1v1h-1zM377 502h1v1h-1zM345 508h1v1h-1zM327 515h1v1h-1zM320 524h1v1h-1zM292 528h1v1h-1zM282 532h1v1h-1zM282 537h1v1h-1zM281 540h1v1h-1zM286 546h1v1h-1zM278 551h1v1h-1zM284 556h1v1h-1zM290 561h1v1h-1zM288 566h1v1h-1zM282 571h1v1h-1zM292 577h1v1h-1zM280 582h1v1h-1zM276 586h1v1h-1zM283 591h1v1h-1zM274 596h1v1h-1zM273 601h1v1h-1zM279 606h1v1h-1z" fill="#0000ff"/>
<rect x="1408.5" y="852.5" width="290" height="258" fill="#fff" stroke="#000" stroke-width="1" shape-rendering="crispEdges"/>
<path d="M1424 877.5H1506" stroke="#cc0000" stroke-width="1" shape-rendering="crispEdges"/>
<path d="M1460.5 874.5H1470.5L1465.5 882.3Z" stroke="#cc0000" stroke-width="1" fill="none"/>
<text x="1513.90" y="891" textLength="169.51" lengthAdjust="spacingAndGlyphs" filter="url(#al)">600 nm, down</text>
<path d="M1424 918.5H1506" stroke="#00cc00" stroke-width="1" shape-rendering="crispEdges"/>
<path d="M1460.5 915.5H1470.5L1465.5 923.3Z" stroke="#00cc00" stroke-width="1" fill="none"/>
<text x="1513.90" y="933" textLength="136.79" lengthAdjust="spacingAndGlyphs" filter="url(#al)">chl a, down</text>
<path d="M1424 960.5H1506" stroke="#0000cc" stroke-width="1" shape-rendering="crispEdges"/>
<path d="M1460.5 957.5H1470.5L1465.5 965.3Z" stroke="#0000cc" stroke-width="1" fill="none"/>
<text x="1513.89" y="975" textLength="164.18" lengthAdjust="spacingAndGlyphs" filter="url(#al)">CDOM, down</text>
<path d="M1424 1001.5H1506" stroke="#ff0000" stroke-width="1" shape-rendering="crispEdges"/>
<path d="M1460.5 1004.5H1470.5L1465.5 996.7Z" stroke="#ff0000" stroke-width="1" fill="none"/>
<text x="1513.89" y="1016" textLength="135.90" lengthAdjust="spacingAndGlyphs" filter="url(#al)">600 nm, up</text>
<path d="M1424 1043.5H1506" stroke="#00ff00" stroke-width="1" shape-rendering="crispEdges"/>
<path d="M1460.5 1046.5H1470.5L1465.5 1038.7Z" stroke="#00ff00" stroke-width="1" fill="none"/>
<text x="1513.90" y="1058" textLength="102.27" lengthAdjust="spacingAndGlyphs" filter="url(#al)">chl a, up</text>
<path d="M1424 1084.5H1506" stroke="#0000ff" stroke-width="1" shape-rendering="crispEdges"/>
<path d="M1460.5 1087.5H1470.5L1465.5 1079.7Z" stroke="#0000ff" stroke-width="1" fill="none"/>
<text x="1513.89" y="1100" textLength="129.54" lengthAdjust="spacingAndGlyphs" filter="url(#al)">CDOM, up</text>
</svg></body></html>
